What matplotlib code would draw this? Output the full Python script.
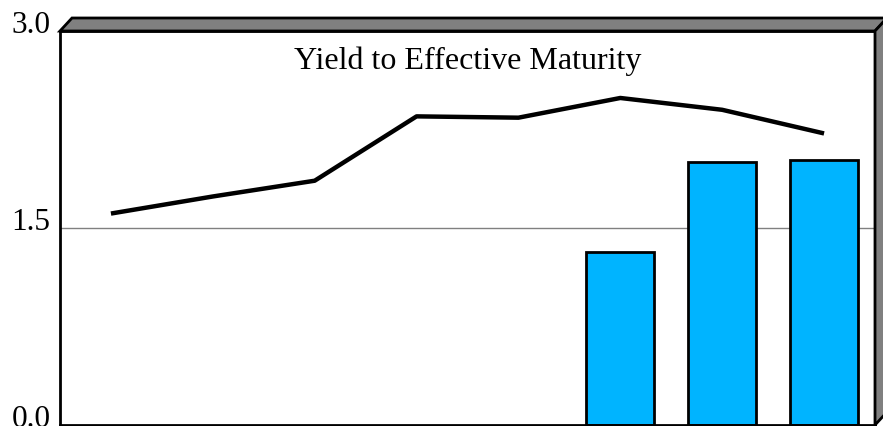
import matplotlib
matplotlib.use("Agg")
from matplotlib import pyplot as plt
from matplotlib.patches import Polygon
from matplotlib.transforms import ScaledTranslation
import numpy as np

# data
categories = ["1", "2", "3", "4", "5", "6", "7", "8"]
yield_line = [1.61, 1.74, 1.86, 2.35, 2.34, 2.49, 2.40, 2.22]
bar_cats = ["6", "7", "8"]
bar_values = [1.32, 2.00, 2.02]
yticks = [0.0, 1.5, 3.0]
ytick_labels = ["0.0", "1.5", "3.0"]
title = "Yield to Effective Maturity"

W, H = 883, 426
fig = plt.figure(figsize=(W / 100, H / 100), dpi=100)
plt.rcParams['font.family'] = ['Liberation Serif', 'DejaVu Serif']

# plot box in pixels (x from left, y from top)
left, right, top, bottom = 60, 875, 31, 425
depth_x, depth_y = 12, 13

ax = fig.add_axes([left / W, (H - bottom) / H, (right - left) / W, (bottom - top) / H])

x = np.arange(len(categories))
bar_x = [categories.index(c) for c in bar_cats]

ax.axhline(1.5, color="#808080", lw=1, zorder=1)
ax.bar(bar_x, bar_values, width=0.67, color="#00B4FF", edgecolor="black", linewidth=2, zorder=2)
ax.plot(x, yield_line, color="black", lw=3.2, zorder=3, solid_capstyle="butt")

ax.set_xlim(-0.5, len(categories) - 0.5)
ax.set_ylim(0, 3.0)
ax.set_xticks([])
ax.set_yticks(yticks)
ax.set_yticklabels(ytick_labels, fontsize=22.5)
ax.tick_params(axis="y", length=0, pad=7)
shift = ScaledTranslation(0, 9 / 100, fig.dpi_scale_trans)
for lab in ax.get_yticklabels():
    lab.set_transform(lab.get_transform() + shift)
for s in ax.spines.values():
    s.set_linewidth(2)

ax.text(0.5, 0.922, title, transform=ax.transAxes, ha="center", va="center", fontsize=23)

# fake 3d box: top and right faces
def px(pts):
    return [(p[0] / W, 1 - p[1] / H) for p in pts]

top_face = px([(left, top), (left + depth_x, top - depth_y), (right + depth_x, top - depth_y), (right, top)])
right_face = px([(right, top), (right + depth_x, top - depth_y), (right + depth_x, bottom - depth_y), (right, bottom)])
for pts in (top_face, right_face):
    fig.patches.append(Polygon(pts, closed=True, transform=fig.transFigure,
                               facecolor="#808080", edgecolor="black", linewidth=2))

fig.savefig("out.png", dpi=100)
